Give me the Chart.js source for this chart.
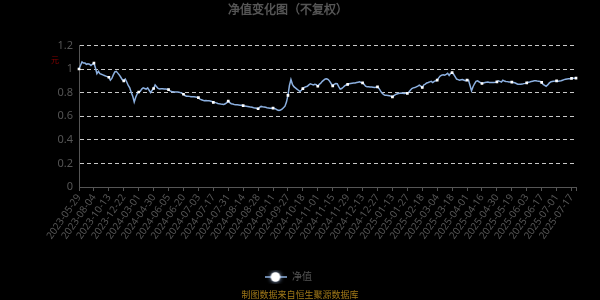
<!DOCTYPE html>
<html lang="zh-CN">
<head>
    <meta charset="UTF-8">
    <title>净值变化图（不复权）</title>
    <script src="https://cdn.jsdelivr.net/npm/chart.js"></script>
    <style>
        body {
            margin: 0;
            background-color: #000;
        }
        #navChart {
            display: block;
        }
    </style>
</head>
<body>
    <canvas id="navChart" width="600" height="300"></canvas>

    <script>
        // 每10个数据点标一个日期
        const tickDates = [
            '2023-05-29', '2023-08-04', '2023-10-13', '2023-12-22', '2024-03-01', '2024-04-30',
            '2024-06-05', '2024-06-20', '2024-07-03', '2024-07-17', '2024-07-31', '2024-08-14',
            '2024-08-28', '2024-09-11', '2024-09-27', '2024-10-18', '2024-11-01', '2024-11-15',
            '2024-11-29', '2024-12-13', '2024-12-27', '2025-01-13', '2025-01-27', '2025-02-18',
            '2025-03-04', '2025-03-18', '2025-04-01', '2025-04-16', '2025-04-30', '2025-05-19',
            '2025-06-03', '2025-06-17', '2025-07-01', '2025-07-17'
        ];

        const navValues = [
            1.0, 1.03, 1.06, 1.05, 1.05, 1.04, 1.045, 1.04, 1.03, 1.04,
            1.05, 1.01, 0.96, 0.98, 0.96, 0.955, 0.95, 0.945, 0.94, 0.935,
            0.93, 0.905, 0.92, 0.95, 0.975, 0.98, 0.965, 0.95, 0.93, 0.91,
            0.90, 0.915, 0.89, 0.86, 0.84, 0.80, 0.77, 0.72, 0.76, 0.79,
            0.805, 0.81, 0.83, 0.84, 0.835, 0.83, 0.84, 0.82, 0.80, 0.82,
            0.835, 0.865, 0.85, 0.835, 0.83, 0.832, 0.832, 0.83, 0.83, 0.828,
            0.826, 0.815, 0.81, 0.808, 0.806, 0.806, 0.805, 0.803, 0.80, 0.795,
            0.786, 0.775, 0.77, 0.77, 0.768, 0.765, 0.765, 0.764, 0.762, 0.76,
            0.757, 0.745, 0.74, 0.735, 0.732, 0.733, 0.731, 0.73, 0.728, 0.725,
            0.717, 0.717, 0.713, 0.708, 0.705, 0.703, 0.702, 0.70, 0.705, 0.715,
            0.728, 0.715, 0.706, 0.703, 0.70, 0.698, 0.697, 0.695, 0.693, 0.692,
            0.689, 0.687, 0.685, 0.683, 0.68, 0.677, 0.675, 0.672, 0.67, 0.667,
            0.663, 0.675, 0.683, 0.68, 0.678, 0.675, 0.672, 0.67, 0.668, 0.667,
            0.669, 0.665, 0.66, 0.652, 0.648, 0.652, 0.66, 0.672, 0.685, 0.72,
            0.777, 0.86, 0.911, 0.87, 0.85, 0.84, 0.83, 0.82, 0.81, 0.82,
            0.834, 0.845, 0.85, 0.853, 0.865, 0.875, 0.87, 0.865, 0.87, 0.868,
            0.854, 0.87, 0.88, 0.895, 0.905, 0.915, 0.917, 0.91, 0.895, 0.875,
            0.857, 0.87, 0.877, 0.875, 0.85, 0.83, 0.835, 0.845, 0.857, 0.865,
            0.869, 0.875, 0.878, 0.88, 0.882, 0.882, 0.885, 0.888, 0.891, 0.886,
            0.883, 0.87, 0.855, 0.85, 0.85, 0.848, 0.847, 0.845, 0.843, 0.846,
            0.849, 0.835, 0.815, 0.797, 0.785, 0.777, 0.777, 0.775, 0.773, 0.77,
            0.763, 0.775, 0.783, 0.788, 0.792, 0.795, 0.797, 0.795, 0.793, 0.794,
            0.794, 0.805, 0.82, 0.834, 0.84, 0.843, 0.848, 0.855, 0.863, 0.855,
            0.843, 0.865, 0.872, 0.882, 0.886, 0.891, 0.895, 0.885, 0.895, 0.9,
            0.906, 0.925, 0.94, 0.948, 0.952, 0.948, 0.955, 0.963, 0.945, 0.963,
            0.969, 0.955, 0.935, 0.915, 0.91, 0.905, 0.908, 0.91, 0.905, 0.9,
            0.906, 0.905, 0.86, 0.815, 0.85, 0.875, 0.895, 0.9, 0.892, 0.885,
            0.877, 0.882, 0.885, 0.887, 0.889, 0.886, 0.885, 0.885, 0.886, 0.888,
            0.891, 0.9, 0.895, 0.89, 0.905, 0.898, 0.895, 0.893, 0.89, 0.889,
            0.889, 0.886, 0.883, 0.877, 0.871, 0.871, 0.871, 0.872, 0.876, 0.878,
            0.883, 0.888, 0.89, 0.894, 0.897, 0.9, 0.9, 0.898, 0.897, 0.895,
            0.886, 0.87, 0.862, 0.854, 0.865, 0.88, 0.89, 0.895, 0.897, 0.898,
            0.9, 0.897, 0.899, 0.9, 0.905, 0.91, 0.913, 0.916, 0.917, 0.918,
            0.92, 0.922, 0.921, 0.923
        ];

        const yTicks = [0, 0.2, 0.4, 0.6, 0.8, 1, 1.2];

        const TICK_EVERY = 10;
        const lineColor = '#8cb0e0';
        const textColor = '#555';

        // 只有刻度位置有日期，其余点不显示标签
        const labels = navValues.map((v, i) => i % TICK_EVERY === 0 ? tickDates[i / TICK_EVERY] : '');

        // 图例图标：线段加白色圆点
        function makeLegendIcon() {
            const c = document.createElement('canvas');
            c.width = 22;
            c.height = 14;
            const g = c.getContext('2d');
            g.strokeStyle = lineColor;
            g.lineWidth = 1.5;
            g.beginPath();
            g.moveTo(0, 7);
            g.lineTo(22, 7);
            g.stroke();
            g.shadowColor = 'rgba(180, 210, 255, 0.9)';
            g.shadowBlur = 4;
            g.fillStyle = '#fff';
            g.beginPath();
            g.arc(11, 7, 4.8, 0, Math.PI * 2);
            g.fill();
            return c;
        }

        // 左上角单位 + 底部数据来源
        const extraText = {
            id: 'extraText',
            afterDraw(chart) {
                const ctx = chart.ctx;
                ctx.save();
                ctx.textAlign = 'center';
                ctx.textBaseline = 'middle';
                ctx.fillStyle = '#8b0000';
                ctx.font = '8px "Noto Sans CJK SC"';
                ctx.fillText('元', 55, 60);
                ctx.fillStyle = '#a07818';
                ctx.font = '9px "Noto Sans CJK SC"';
                ctx.fillText('制图数据来自恒生聚源数据库', 300, 295);
                ctx.restore();
            }
        };

        function initChart() {
            const legendIcon = makeLegendIcon();
            const ctx = document.getElementById('navChart').getContext('2d');
            new Chart(ctx, {
                type: 'line',
                data: {
                    labels: labels,
                    datasets: [{
                        label: '净值',
                        data: navValues,
                        borderColor: lineColor,
                        borderWidth: 1.5,
                        tension: 0,
                        pointStyle: 'rect',
                        pointRadius: (c) => (c.dataIndex % TICK_EVERY === 0 || c.dataIndex === navValues.length - 1) ? 1.9 : 0,
                        pointBackgroundColor: '#fff',
                        pointBorderColor: '#fff',
                        pointBorderWidth: 0
                    }]
                },
                options: {
                    responsive: false,
                    animation: false,
                    font: {
                        family: '"Noto Sans", "Noto Sans CJK SC", sans-serif'
                    },
                    layout: {
                        padding: { left: 0, right: 24, top: 0, bottom: 8 }
                    },
                    scales: {
                        x: {
                            border: { color: '#555' },
                            grid: {
                                drawOnChartArea: false,
                                drawTicks: true,
                                tickLength: 4,
                                color: '#555'
                            },
                            ticks: {
                                autoSkip: false,
                                minRotation: 55,
                                maxRotation: 55,
                                padding: 1,
                                color: textColor,
                                font: { size: 10 },
                                callback: function(value, index) {
                                    if (index % TICK_EVERY === 0) return labels[index];
                                    if (index === navValues.length - 1) return '';
                                    return null;
                                }
                            },
                            afterFit: function(scale) {
                                scale.height = 73;
                            }
                        },
                        y: {
                            min: 0,
                            max: 1.2,
                            border: { color: '#555', dash: [4, 3] },
                            grid: {
                                drawTicks: false,
                                color: (c) => c.tick.value === 0 ? 'rgba(0,0,0,0)' : '#c8c8c8'
                            },
                            ticks: {
                                stepSize: 0.2,
                                padding: 6,
                                color: textColor,
                                font: { size: 11 },
                                callback: function(value) {
                                    const t = yTicks.find(v => Math.abs(v - value) < 1e-6);
                                    return t === undefined ? null : String(t);
                                }
                            },
                            afterFit: function(scale) {
                                scale.width = 79;
                            }
                        }
                    },
                    plugins: {
                        title: {
                            display: true,
                            text: '净值变化图（不复权）',
                            color: textColor,
                            font: { size: 12, weight: 'bold' },
                            padding: { top: 3, bottom: 28 }
                        },
                        legend: {
                            display: true,
                            position: 'bottom',
                            labels: {
                                color: textColor,
                                font: { size: 10 },
                                usePointStyle: true,
                                pointStyleWidth: 22,
                                padding: 12,
                                generateLabels: function(chart) {
                                    const items = Chart.defaults.plugins.legend.labels.generateLabels(chart);
                                    items.forEach(it => { it.pointStyle = legendIcon; });
                                    return items;
                                }
                            }
                        },
                        tooltip: {
                            enabled: false
                        }
                    }
                },
                plugins: [extraText]
            });
        }

        window.onload = initChart;
    </script>
</body>
</html>
